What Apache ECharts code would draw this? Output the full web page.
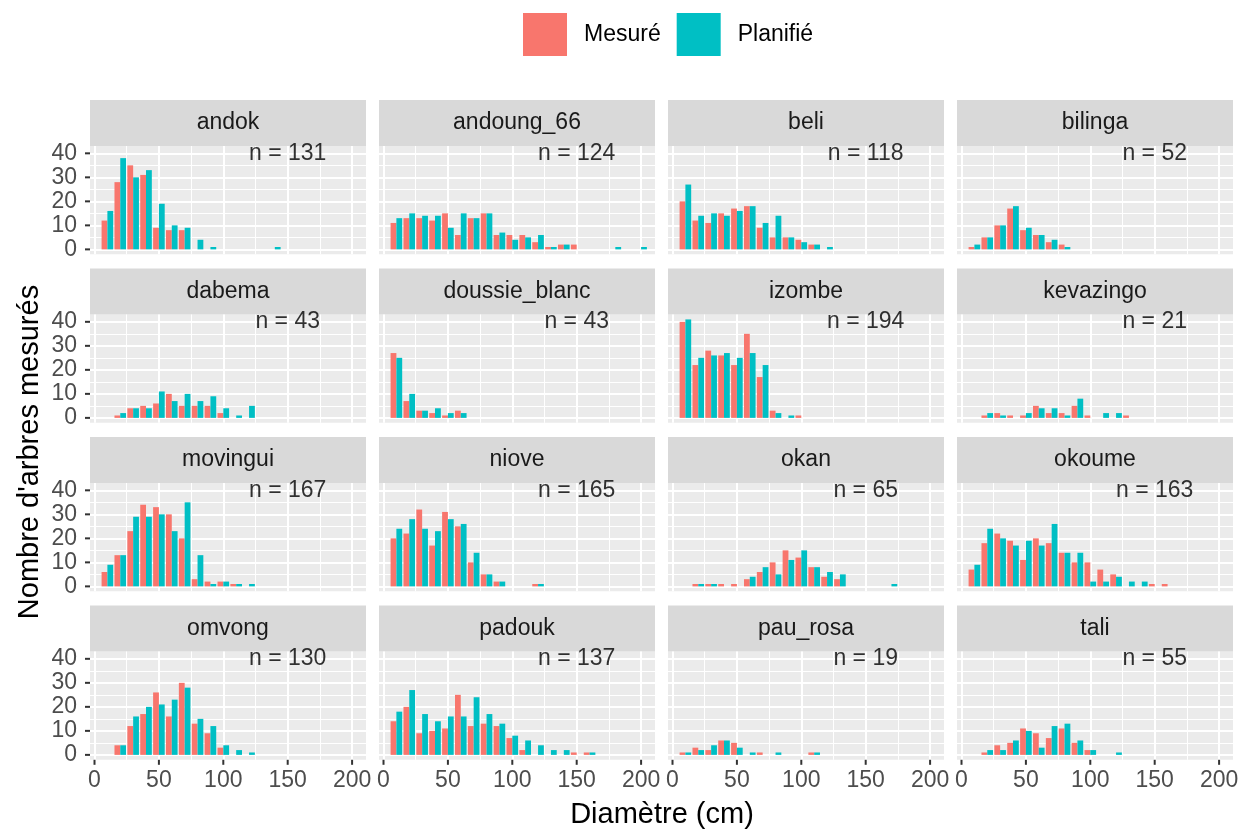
<!DOCTYPE html>
<html>
<head>
<meta charset="utf-8">
<script src="https://cdn.jsdelivr.net/npm/echarts@6/dist/echarts.min.js"></script>
<style>
  html, body { margin: 0; padding: 0; background: #fff; }
  #main { width: 1252px; height: 833px; }
</style>
</head>
<body>
<div id="main"></div>
<script>
// diameter classes (cm)
const bins = [10, 20, 30, 40, 50, 60, 70, 80, 90, 100, 110, 120, 130, 140, 150, 160, 170, 180, 190, 200];

const species = ['andok', 'andoung_66', 'beli', 'bilinga', 'dabema', 'doussie_blanc', 'izombe', 'kevazingo',
  'movingui', 'niove', 'okan', 'okoume', 'omvong', 'padouk', 'pau_rosa', 'tali'];
const totals = [131, 124, 118, 52, 43, 43, 194, 21, 167, 165, 65, 163, 130, 137, 19, 55];

const andokMesure = [12, 28, 35, 31, 9, 8, 8, 0, 0, 0, 0, 0, 0, 0, 0, 0, 0, 0, 0, 0];
const andokPlanifie = [16, 38, 30, 33, 19, 10, 9, 4, 1, 0, 0, 0, 0, 1, 0, 0, 0, 0, 0, 0];
const andoungMesure = [11, 13, 13, 12, 15, 6, 13, 15, 6, 6, 6, 3, 1, 2, 2, 0, 0, 0, 0, 0];
const andoungPlanifie = [13, 15, 14, 14, 9, 15, 13, 15, 7, 4, 5, 6, 1, 2, 0, 0, 0, 1, 0, 1];
const beliMesure = [20, 12, 11, 15, 17, 18, 9, 5, 5, 4, 2, 0, 0, 0, 0, 0, 0, 0, 0, 0];
const beliPlanifie = [27, 14, 15, 14, 16, 18, 11, 14, 5, 3, 2, 1, 0, 0, 0, 0, 0, 0, 0, 0];
const bilingaMesure = [1, 5, 10, 17, 8, 6, 3, 2, 0, 0, 0, 0, 0, 0, 0, 0, 0, 0, 0, 0];
const bilingaPlanifie = [2, 5, 10, 18, 9, 6, 4, 1, 0, 0, 0, 0, 0, 0, 0, 0, 0, 0, 0, 0];
const dabemaMesure = [0, 1, 4, 5, 6, 10, 5, 5, 5, 2, 0, 0, 0, 0, 0, 0, 0, 0, 0, 0];
const dabemaPlanifie = [0, 2, 4, 4, 11, 7, 10, 7, 9, 4, 1, 5, 0, 0, 0, 0, 0, 0, 0, 0];
const doussieMesure = [27, 7, 3, 2, 1, 3, 0, 0, 0, 0, 0, 0, 0, 0, 0, 0, 0, 0, 0, 0];
const doussiePlanifie = [25, 10, 3, 4, 2, 2, 0, 0, 0, 0, 0, 0, 0, 0, 0, 0, 0, 0, 0, 0];
const izombeMesure = [40, 22, 28, 26, 22, 35, 17, 3, 0, 1, 0, 0, 0, 0, 0, 0, 0, 0, 0, 0];
const izombePlanifie = [41, 25, 26, 27, 25, 27, 22, 2, 1, 0, 0, 0, 0, 0, 0, 0, 0, 0, 0, 0];
const kevazingoMesure = [0, 1, 2, 1, 1, 5, 2, 2, 5, 1, 0, 0, 1, 0, 0, 0, 0, 0, 0, 0];
const kevazingoPlanifie = [0, 2, 1, 0, 2, 4, 4, 1, 8, 0, 2, 2, 0, 0, 0, 0, 0, 0, 0, 0];
const movinguiMesure = [6, 13, 23, 34, 33, 30, 20, 3, 2, 2, 1, 0, 0, 0, 0, 0, 0, 0, 0, 0];
const movinguiPlanifie = [9, 13, 29, 29, 30, 23, 35, 13, 1, 2, 1, 1, 0, 0, 0, 0, 0, 0, 0, 0];
const nioveMesure = [20, 22, 32, 17, 31, 25, 10, 5, 2, 0, 0, 1, 0, 0, 0, 0, 0, 0, 0, 0];
const niovePlanifie = [24, 28, 24, 23, 28, 26, 14, 5, 2, 0, 0, 1, 0, 0, 0, 0, 0, 0, 0, 0];
const okanMesure = [0, 1, 1, 1, 1, 3, 6, 10, 15, 12, 8, 4, 3, 0, 0, 0, 0, 0, 0, 0];
const okanPlanifie = [0, 1, 1, 0, 0, 4, 8, 5, 11, 15, 8, 6, 5, 0, 0, 0, 1, 0, 0, 0];
const okoumeMesure = [7, 18, 22, 19, 11, 20, 18, 14, 10, 10, 7, 5, 0, 0, 1, 1, 0, 0, 0, 0];
const okoumePlanifie = [9, 24, 20, 17, 19, 17, 26, 14, 14, 2, 2, 4, 2, 2, 0, 0, 0, 0, 0, 0];
const omvongMesure = [0, 4, 12, 17, 26, 16, 30, 13, 9, 3, 0, 0, 0, 0, 0, 0, 0, 0, 0, 0];
const omvongPlanifie = [0, 4, 16, 20, 21, 23, 28, 15, 12, 4, 2, 1, 0, 0, 0, 0, 0, 0, 0, 0];
const padoukMesure = [14, 20, 9, 10, 11, 25, 12, 13, 12, 7, 2, 0, 0, 0, 1, 1, 0, 0, 0, 0];
const padoukPlanifie = [18, 27, 17, 14, 16, 16, 24, 17, 13, 8, 6, 4, 2, 2, 0, 1, 0, 0, 0, 0];
const pauRosaMesure = [1, 3, 2, 6, 5, 0, 1, 0, 0, 0, 1, 0, 0, 0, 0, 0, 0, 0, 0, 0];
const pauRosaPlanifie = [1, 2, 4, 6, 3, 1, 0, 1, 0, 0, 1, 0, 0, 0, 0, 0, 0, 0, 0, 0];
const taliMesure = [0, 1, 4, 5, 11, 9, 7, 11, 5, 2, 0, 0, 0, 0, 0, 0, 0, 0, 0, 0];
const taliPlanifie = [0, 2, 2, 6, 10, 3, 12, 13, 6, 2, 0, 1, 0, 0, 0, 0, 0, 0, 0, 0];

const xTicks = [0, 50, 100, 150, 200];
const xMinor = [25, 75, 125, 175];
const yTicks = [0, 10, 20, 30, 40];
const yMinor = [5, 15, 25, 35];

const mesure = [andokMesure, andoungMesure, beliMesure, bilingaMesure, dabemaMesure, doussieMesure,
  izombeMesure, kevazingoMesure, movinguiMesure, nioveMesure, okanMesure, okoumeMesure,
  omvongMesure, padoukMesure, pauRosaMesure, taliMesure];
const planifie = [andokPlanifie, andoungPlanifie, beliPlanifie, bilingaPlanifie, dabemaPlanifie, doussiePlanifie,
  izombePlanifie, kevazingoPlanifie, movinguiPlanifie, niovePlanifie, okanPlanifie, okoumePlanifie,
  omvongPlanifie, padoukPlanifie, pauRosaPlanifie, taliPlanifie];

const chart = echarts.init(document.getElementById('main'));

const FONT = 'Liberation Sans, Arial, sans-serif';
const X_MIN = -3.5, X_MAX = 210.8, Y_MIN = -2.05, Y_MAX = 43.05;
const left0 = 90, top0 = 146, colStep = 289, rowStep = 168.5;
const pw = 276, ph = 108.3, stripH = 46;
const TICK = 5;

const pairs = vals => bins.map((b, k) => [b, vals[k]]).filter(p => p[1] > 0);

// small outward tick marks, drawn through the axis scales
const yTickItem = (params, api) => {
  const p = api.coord([api.value(0), api.value(1)]);
  return { type: 'line', shape: { x1: p[0] - TICK, y1: p[1], x2: p[0], y2: p[1] },
    style: { stroke: '#333333', lineWidth: 2 } };
};
const xTickItem = (params, api) => {
  const p = api.coord([api.value(0), api.value(1)]);
  return { type: 'line', shape: { x1: p[0], y1: p[1], x2: p[0], y2: p[1] + TICK },
    style: { stroke: '#333333', lineWidth: 2 } };
};

const grids = [], xAxes = [], yAxes = [], series = [], graphics = [];

species.forEach((name, i) => {
  const c = i % 4, r = Math.floor(i / 4);
  const gl = left0 + c * colStep, gt = top0 + r * rowStep;

  grids.push({
    left: gl, top: gt, width: pw, height: ph,
    show: true, backgroundColor: '#EBEBEB', borderWidth: 0,
    containLabel: false, outerBoundsMode: 'none'
  });

  xAxes.push({
    gridIndex: i, type: 'value', min: X_MIN, max: X_MAX,
    axisLine: { show: false },
    splitLine: { show: false },
    axisTick: { show: false },
    axisLabel: {
      show: r === 3, customValues: xTicks, margin: 9,
      color: '#4D4D4D', fontSize: 23, fontFamily: FONT,
      formatter: v => (v % 50 === 0 ? String(v) : '')
    }
  });

  yAxes.push({
    gridIndex: i, type: 'value', min: Y_MIN, max: Y_MAX,
    axisLine: { show: false },
    splitLine: { show: false },
    axisTick: { show: false },
    axisLabel: {
      show: c === 0, customValues: yTicks, margin: 13,
      color: '#4D4D4D', fontSize: 23, fontFamily: FONT,
      formatter: v => (v % 10 === 0 ? String(v) : '')
    }
  });

  // panel grid lines
  const lines = []
    .concat(xTicks.map(v => ({ xAxis: v, lineStyle: { width: 2 } })))
    .concat(xMinor.map(v => ({ xAxis: v, lineStyle: { width: 1 } })))
    .concat(yTicks.map(v => ({ yAxis: v, lineStyle: { width: 2 } })))
    .concat(yMinor.map(v => ({ yAxis: v, lineStyle: { width: 1 } })));
  series.push({
    type: 'line', xAxisIndex: i, yAxisIndex: i, data: [], silent: true, z: 1,
    markLine: {
      silent: true, symbol: 'none', z: 1, animation: false,
      label: { show: false },
      lineStyle: { color: '#FFFFFF', type: 'solid' },
      data: lines
    }
  });

  if (c === 0) {
    series.push({
      type: 'custom', xAxisIndex: i, yAxisIndex: i, silent: true, clip: false, z: 5,
      data: yTicks.map(v => [X_MIN, v]), renderItem: yTickItem
    });
  }
  if (r === 3) {
    series.push({
      type: 'custom', xAxisIndex: i, yAxisIndex: i, silent: true, clip: false, z: 5,
      data: xTicks.map(v => [v, Y_MIN]), renderItem: xTickItem
    });
  }

  series.push({
    name: 'Mesuré', type: 'bar', xAxisIndex: i, yAxisIndex: i,
    data: pairs(mesure[i]), barWidth: 5.8, barGap: '0%', z: 3,
    itemStyle: { color: '#F8766D' }
  });
  series.push({
    name: 'Planifié', type: 'bar', xAxisIndex: i, yAxisIndex: i,
    data: pairs(planifie[i]), barWidth: 5.8, barGap: '0%', z: 3,
    itemStyle: { color: '#00BFC4' }
  });

  // "n = ..." label
  series.push({
    type: 'scatter', xAxisIndex: i, yAxisIndex: i, silent: true, z: 4,
    data: [[150, 40]], symbolSize: 1,
    itemStyle: { color: 'rgba(0,0,0,0)' },
    label: {
      show: true, position: 'inside', formatter: 'n = ' + totals[i],
      fontSize: 23, color: '#000', fontFamily: FONT
    }
  });

  // facet strip
  graphics.push({
    type: 'rect', left: gl, top: gt - stripH, silent: true,
    shape: { width: pw, height: stripH },
    style: { fill: '#D9D9D9' }
  });
  graphics.push({
    type: 'text', x: gl + pw / 2, y: gt - stripH / 2, silent: true,
    style: {
      text: name, fill: '#1A1A1A', fontSize: 23, fontFamily: FONT,
      align: 'center', verticalAlign: 'middle'
    }
  });
});

// axis titles
graphics.push({
  type: 'text', x: 662, y: 815, silent: true,
  style: { text: 'Diamètre (cm)', fill: '#000', fontSize: 29, fontFamily: FONT, align: 'center', verticalAlign: 'middle' }
});
graphics.push({
  type: 'text', x: 30, y: 452, rotation: Math.PI / 2, silent: true,
  style: { text: "Nombre d'arbres mesurés", fill: '#000', fontSize: 29, fontFamily: FONT, align: 'center', verticalAlign: 'middle' }
});

chart.setOption({
  animation: false,
  legend: {
    data: ['Mesuré', 'Planifié'], top: 8, left: 518,
    icon: 'rect', itemWidth: 44, itemHeight: 43, itemGap: 16,
    selectedMode: false,
    textStyle: { fontSize: 23, color: '#000', fontFamily: FONT, padding: [0, 0, 0, 12] }
  },
  grid: grids,
  xAxis: xAxes,
  yAxis: yAxes,
  series: series,
  graphic: graphics
});
</script>
</body>
</html>
